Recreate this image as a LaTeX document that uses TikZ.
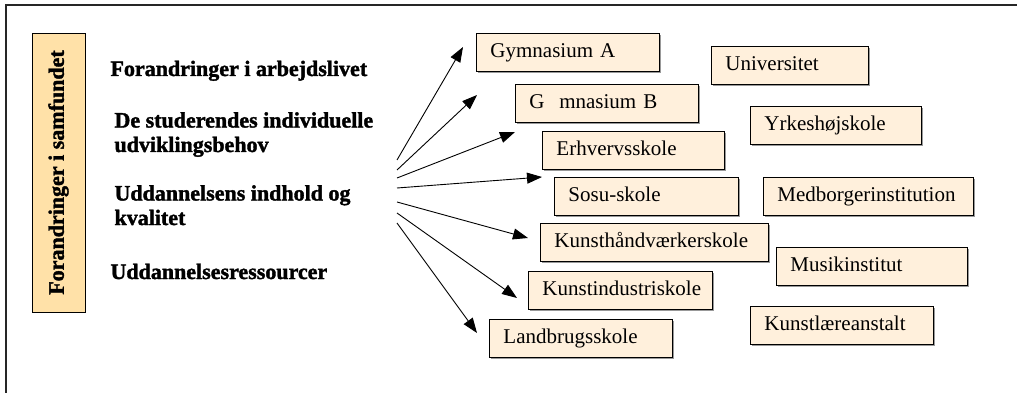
\documentclass[tikz,border=0pt]{standalone}
\usepackage{fontspec}
\setmainfont{Liberation Serif}[BoldFeatures={FakeBold=1.6}]
\usetikzlibrary{arrows.meta,shadows}
\definecolor{ink}{HTML}{000000}
\definecolor{cream}{HTML}{FFF0DC}
\definecolor{sand}{HTML}{FFE1A8}

\begin{document}
\begin{tikzpicture}[x=1pt,y=-1pt,>={Triangle[length=15pt,width=11pt]},
  school/.style={draw=ink,line width=0.9pt,fill=cream,anchor=north west,
    minimum height=38pt,inner xsep=14pt,text height=14pt,text depth=4pt,
    align=left,font=\fontsize{21}{24}\selectfont,
    drop shadow={shadow xshift=1.2pt,shadow yshift=-1.2pt,
      fill=black!40,opacity=1}},
  factor/.style={anchor=base west,align=left,
    font=\bfseries\fontsize{22}{24.5}\selectfont},
  fan/.style={->,line width=0.9pt,draw=ink}]
  \useasboundingbox (0,0) rectangle (1017,393);

  % frame
  \draw[line width=1.3pt,draw=black!85] (6,393) -- (6,5) -- (1017,5);

  % society box and factors
  \node[draw=ink,line width=0.9pt,fill=sand,rotate=90,
        minimum width=279pt,minimum height=53pt,
        font=\bfseries\fontsize{22}{24.5}\selectfont,
        drop shadow={shadow xshift=1.2pt,shadow yshift=-1.2pt,
          fill=black!40,opacity=1}]
    (samfund) at (58.5,172.5) {Forandringer i samfundet};
  \node[factor] (arbejde) at (107,76) {Forandringer i arbejdslivet};
  \node[factor] (behov) at (111,152)
    {De studerendes individuelle\\udviklingsbehov};
  \node[factor] (kvalitet) at (111,225)
    {Uddannelsens indhold og\\kvalitet};
  \node[factor] (ressourcer) at (107,279) {Uddannelsesressourcer};

  % schools reached by the arrows
  \node[school,text width=155pt] (gymA) at (476,33) {Gymnasium A};
  \node[school,text width=155pt] (gymB) at (515,84)
    {G\hspace{0.7em}mnasium B};
  \node[school,text width=154pt] (erhverv) at (542,131) {Erhvervsskole};
  \node[school,text width=156pt] (sosu) at (554,177) {Sosu-skole};
  \node[school,text width=200pt] (kunsthv) at (540,223)
    {Kunsthåndværkerskole};
  \node[school,text width=156pt] (kunstind) at (528,271)
    {Kunstindustriskole};
  \node[school,text width=155pt] (landbrug) at (489,319)
    {Landbrugsskole};

  % other institutions
  \node[school,text width=129pt] (univ) at (711,46) {Universitet};
  \node[school,text width=143pt] (yrkes) at (750,106) {Yrkeshøjskole};
  \node[school,text width=182pt] (medborger) at (763,177)
    {Medborgerinstitution};
  \node[school,text width=163pt] (musik) at (776,247) {Musikinstitut};
  \node[school,text width=155pt] (kunstl) at (750,306)
    {Kunstlæreanstalt};

  % fan of arrows
  \foreach \i/\sy/\tx/\ty in {1/160/463/47, 2/170/477/95, 3/178/515/132,
      4/188/542/177, 5/202/528/238, 6/213/517/298, 7/223/477/333} {
    \coordinate (s\i) at (397,\sy);
    \coordinate (t\i) at (\tx,\ty);
    \draw[fan] (s\i) -- (t\i);
  }
\end{tikzpicture}
\end{document}
